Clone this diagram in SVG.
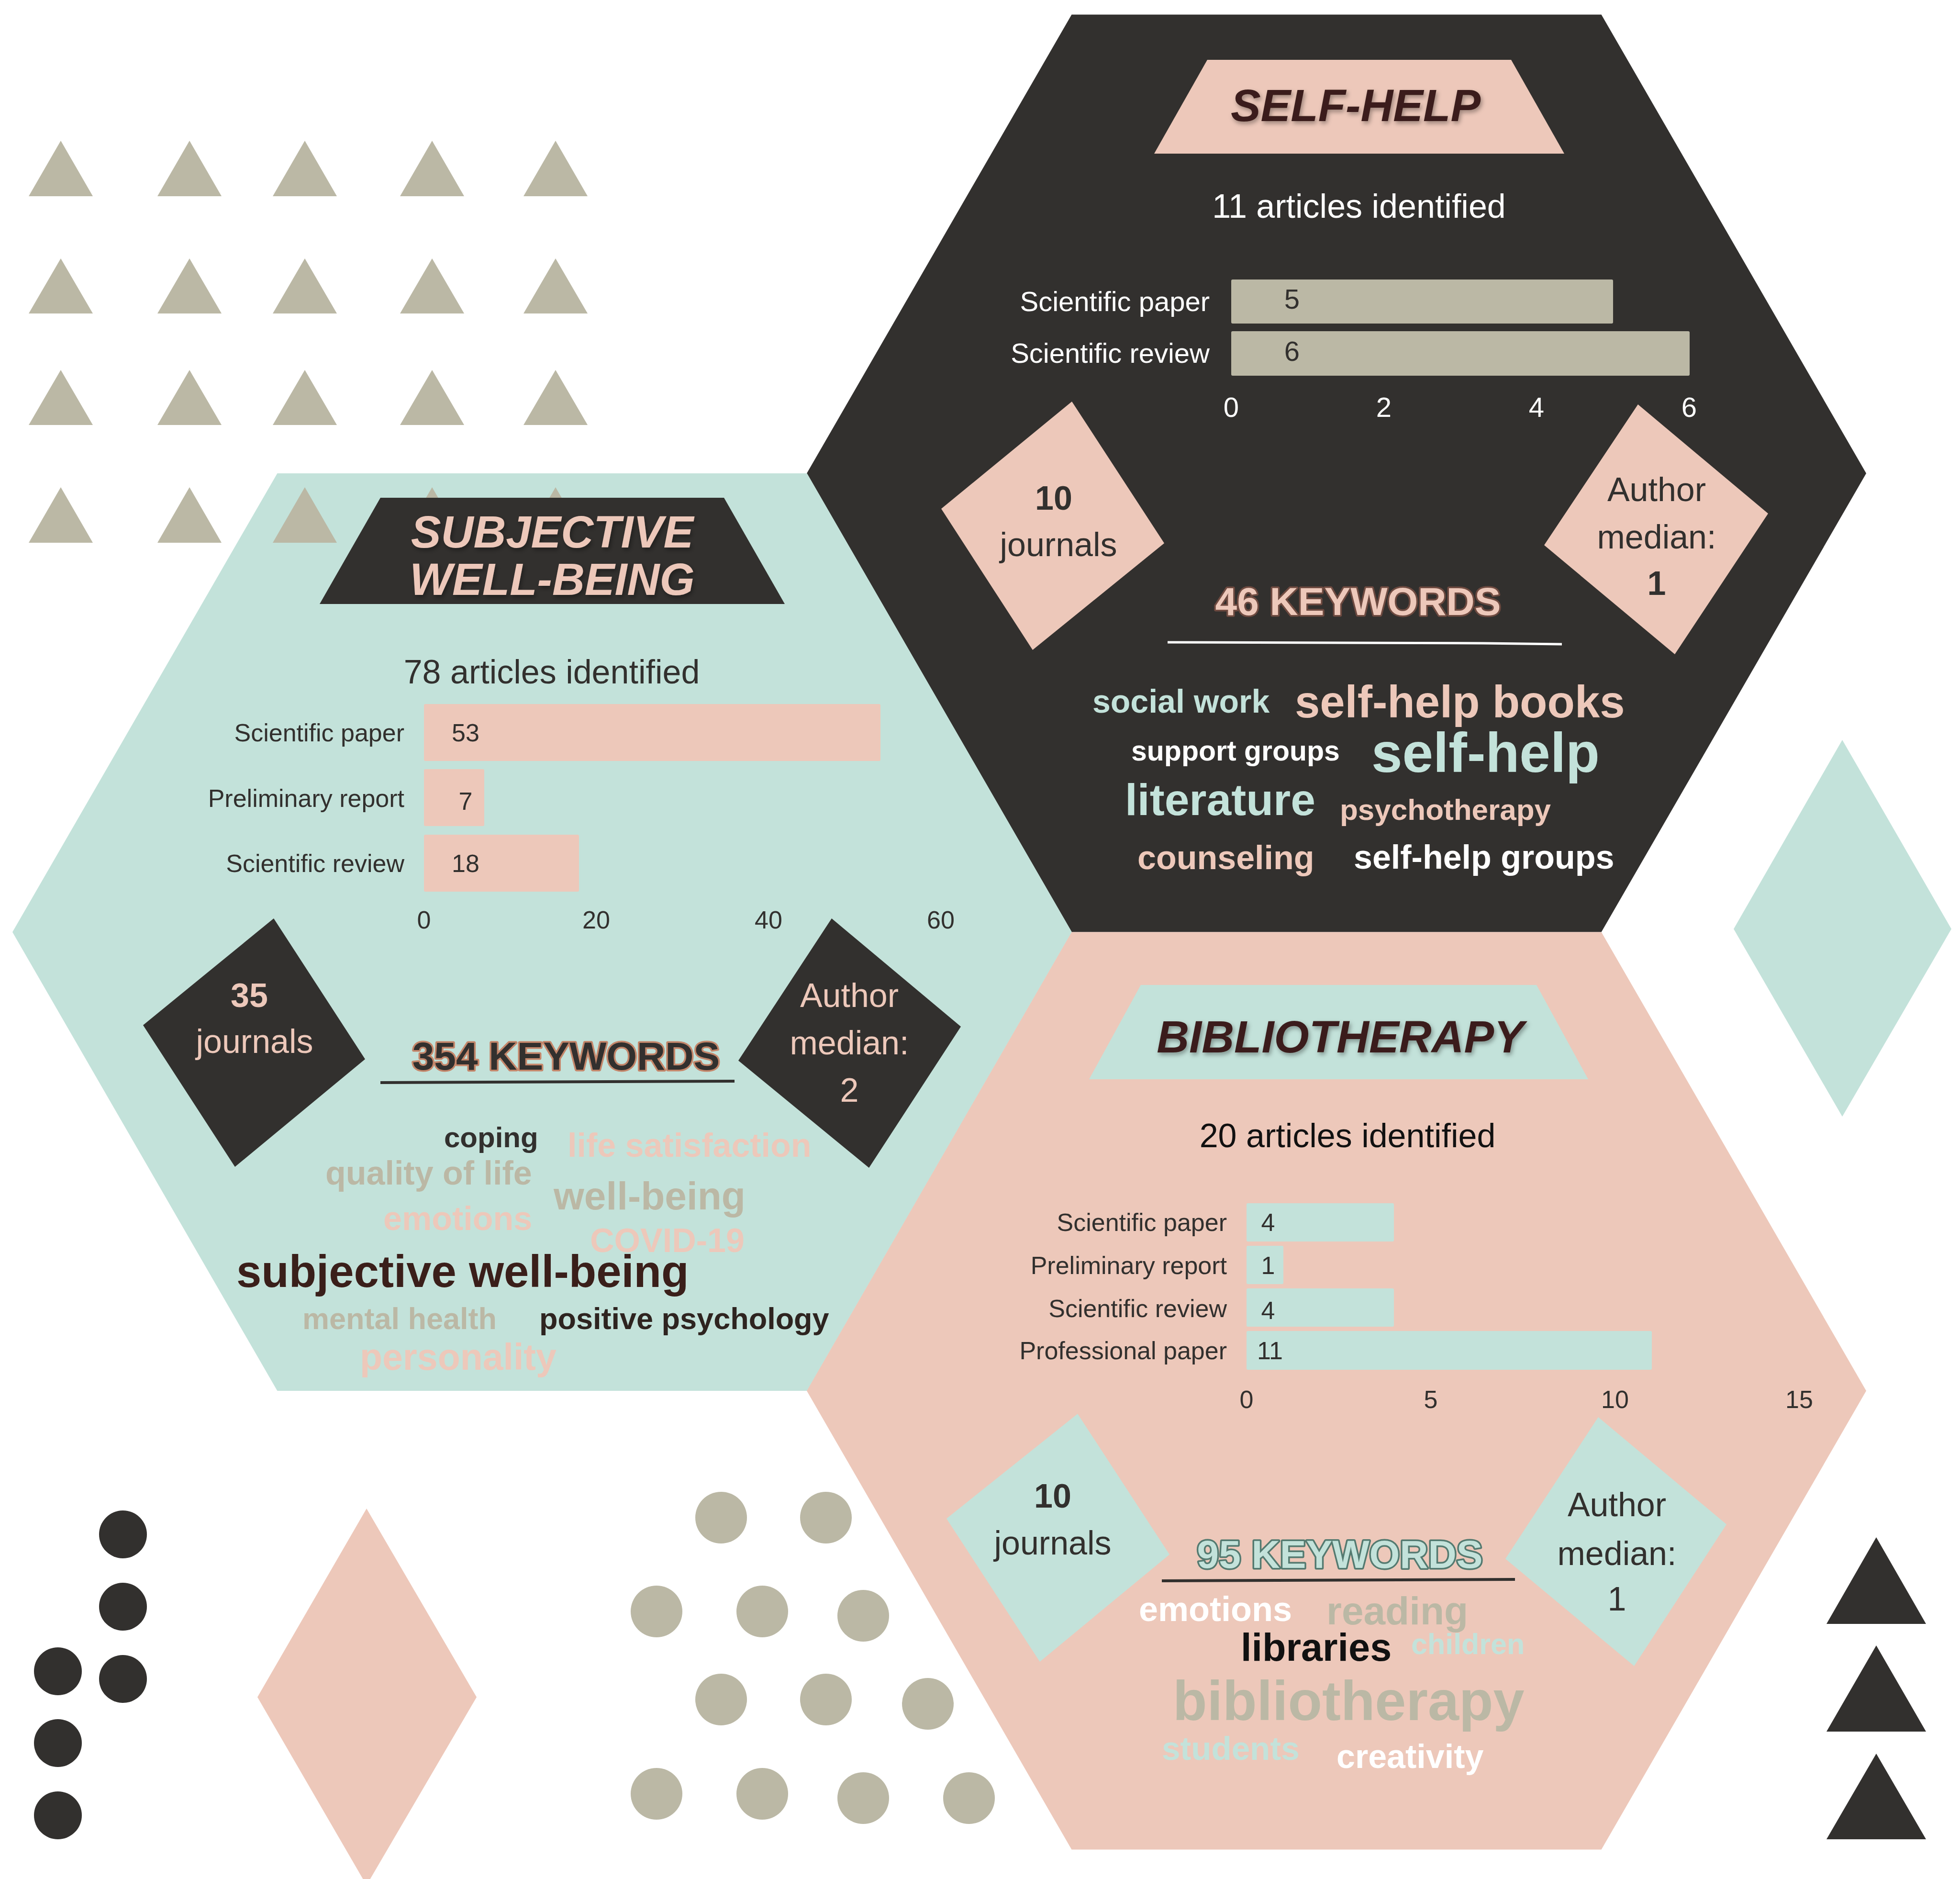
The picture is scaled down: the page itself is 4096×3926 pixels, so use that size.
<svg xmlns="http://www.w3.org/2000/svg" width="4096" height="3926" viewBox="0 0 4096 3926">
<style>
text{font-family:"Liberation Sans",Arial,sans-serif}
.dk{fill:#32302E}.tl{fill:#C3E2DA}.pk{fill:#EDC8BA}.gy{fill:#BBB8A5}.wh{fill:#FFFFFF}
.b{font-weight:bold}.m{text-anchor:middle}.e{text-anchor:end}
.ttl{font-weight:bold;font-style:italic;font-size:94px;text-anchor:middle}
.art{font-size:70px;text-anchor:middle}
.lab{font-size:52px;text-anchor:end}
.ax{font-size:52px;text-anchor:middle}
.dia{font-size:70px;text-anchor:middle}
.kw{font-size:82px;font-weight:bold;text-anchor:middle;stroke-width:7px;paint-order:stroke;stroke-linejoin:round}
.wc{font-weight:bold}
</style>
<defs>
<filter id="sh" x="-10%" y="-40%" width="120%" height="180%">
<feDropShadow dx="3" dy="5" stdDeviation="5" flood-color="#000" flood-opacity="0.35"/>
</filter>
</defs>
<rect width="4096" height="3926" fill="#FFFFFF"/>

<g id="hexagons">
<polygon id="hex-selfhelp" class="dk" points="2239.5,30.5 3346.5,30.5 3900,989 3346.5,1947.5 2239.5,1947.5 1686,989"/>
<polygon id="hex-swb" class="tl" points="579.5,989 1686.5,989 2240,1947.5 1686.5,2906 579.5,2906 26,1947.5"/>
<polygon id="hex-biblio" class="pk" points="2239.5,1947.5 3346.5,1947.5 3900,2906 3346.5,3864.5 2239.5,3864.5 1686,2906"/>
</g>

<g id="triangle-grid" class="gy">
<polygon points="127,294 194,410 60,410"/><polygon points="396,294 463,410 329,410"/><polygon points="637,294 704,410 570,410"/><polygon points="903,294 970,410 836,410"/><polygon points="1161,294 1228,410 1094,410"/>
<polygon points="127,540 194,655 60,655"/><polygon points="396,540 463,655 329,655"/><polygon points="637,540 704,655 570,655"/><polygon points="903,540 970,655 836,655"/><polygon points="1161,540 1228,655 1094,655"/>
<polygon points="127,773 194,888 60,888"/><polygon points="396,773 463,888 329,888"/><polygon points="637,773 704,888 570,888"/><polygon points="903,773 970,888 836,888"/><polygon points="1161,773 1228,888 1094,888"/>
<polygon points="127,1018 194,1134 60,1134"/><polygon points="396,1018 463,1134 329,1134"/><polygon points="637,1018 704,1134 570,1134"/><polygon points="903,1018 970,1134 836,1134"/><polygon points="1161,1018 1228,1134 1094,1134"/>
</g>

<g id="selfhelp">
<polygon class="pk" points="2523,125 3158,125 3269,321 2412,321"/>
<text class="ttl" x="2833" y="253" fill="#3A1F1A" filter="url(#sh)">SELF-HELP</text>
<text class="art wh" x="2840" y="455">11 articles identified</text>
<rect class="gy" x="2573" y="584" width="798" height="92" rx="3"/>
<rect class="gy" x="2573" y="692" width="958" height="93" rx="3"/>
<text class="lab wh" x="2528" y="650" style="font-size:58px">Scientific paper</text>
<text class="lab wh" x="2528" y="758" style="font-size:58px">Scientific review</text>
<text class="ax dk" x="2700" y="645" style="font-size:58px">5</text>
<text class="ax dk" x="2700" y="754" style="font-size:58px">6</text>
<g class="wh">
<text class="ax" x="2573" y="871" style="font-size:58px">0</text>
<text class="ax" x="2892" y="871" style="font-size:58px">2</text>
<text class="ax" x="3211" y="871" style="font-size:58px">4</text>
<text class="ax" x="3530" y="871" style="font-size:58px">6</text>
</g>
<polygon class="pk" points="2240,839 2433,1135 2158,1358 1967,1063"/>
<text class="dia dk b" x="2202" y="1065">10</text>
<text class="dia dk" x="2212" y="1162">journals</text>
<polygon class="pk" points="3423,845 3695,1073 3500,1367 3227,1139"/>
<text class="dia dk" x="3462" y="1047">Author</text>
<text class="dia dk" x="3462" y="1146">median:</text>
<text class="dia dk b" x="3462" y="1243">1</text>
<text class="kw" x="2838" y="1285" fill="#EDC8BA" stroke="#6E4A40">46 KEYWORDS</text>
<polyline points="2440,1342 3100,1344 3264,1346" fill="none" stroke="#FFFFFF" stroke-width="5"/>
<text class="wc tl" x="2283" y="1489" font-size="68">social work</text>
<text class="wc pk" x="2706" y="1499" font-size="94">self-help books</text>
<text class="wc wh" x="2364" y="1589" font-size="59">support groups</text>
<text class="wc tl" x="2866" y="1613" font-size="116">self-help</text>
<text class="wc tl" x="2351" y="1703" font-size="93">literature</text>
<text class="wc pk" x="2800" y="1713" font-size="62">psychotherapy</text>
<text class="wc pk" x="2377" y="1816" font-size="70">counseling</text>
<text class="wc wh" x="2829" y="1815" font-size="70">self-help groups</text>
</g>

<g id="swb">
<polygon class="dk" points="795,1040 1513,1040 1640,1262 668,1262"/>
<text class="ttl pk" x="1154" y="1144" font-size="93" filter="url(#sh)">SUBJECTIVE</text>
<text class="ttl pk" x="1154" y="1243" font-size="93" filter="url(#sh)">WELL-BEING</text>
<text class="art dk" x="1153" y="1428">78 articles identified</text>
<rect class="pk" x="886" y="1471" width="954" height="119" rx="3"/>
<rect class="pk" x="886" y="1607" width="126" height="119" rx="3"/>
<rect class="pk" x="886" y="1744" width="324" height="119" rx="3"/>
<text class="lab dk" x="845" y="1549">Scientific paper</text>
<text class="lab dk" x="845" y="1686">Preliminary report</text>
<text class="lab dk" x="845" y="1822">Scientific review</text>
<text class="ax dk" x="973" y="1549">53</text>
<text class="ax dk" x="973" y="1692">7</text>
<text class="ax dk" x="973" y="1822">18</text>
<text class="ax dk" x="886" y="1940">0</text>
<text class="ax dk" x="1246" y="1940">20</text>
<text class="ax dk" x="1606" y="1940">40</text>
<text class="ax dk" x="1966" y="1940">60</text>
<polygon class="dk" points="572,1919 763,2213 491,2438 299,2142"/>
<text class="dia pk b" x="521" y="2104">35</text>
<text class="dia pk" x="532" y="2200">journals</text>
<polygon class="dk" points="1738,1919 2008,2145 1816,2440 1543,2216"/>
<text class="dia pk" x="1775" y="2104">Author</text>
<text class="dia pk" x="1775" y="2203">median:</text>
<text class="dia pk" x="1775" y="2302">2</text>
<text class="kw" x="1183" y="2235" fill="#32302E" stroke="#C4866A">354 KEYWORDS</text>
<line x1="795" y1="2262" x2="1535" y2="2259" stroke="#32302E" stroke-width="6"/>
<text class="wc dk" x="928" y="2397" font-size="60">coping</text>
<text class="wc pk" x="1186" y="2417" font-size="70">life satisfaction</text>
<text class="wc gy" x="680" y="2475" font-size="70">quality of life</text>
<text class="wc pk" x="801" y="2570" font-size="70">emotions</text>
<text class="wc gy" x="1157" y="2527" font-size="82">well-being</text>
<text class="wc pk" x="1233" y="2616" font-size="70">COVID-19</text>
<text class="wc" x="494" y="2689" font-size="94" fill="#3A1F1A">subjective well-being</text>
<text class="wc gy" x="632" y="2777" font-size="63">mental health</text>
<text class="wc" x="1127" y="2777" font-size="63" fill="#2E2420">positive psychology</text>
<text class="wc pk" x="752" y="2862" font-size="77">personality</text>
</g>

<g id="bibliotherapy">
<polygon class="tl" points="2384,2058 3211,2058 3319,2255 2276,2255"/>
<text class="ttl" x="2801" y="2199" fill="#3A1F1A" filter="url(#sh)">BIBLIOTHERAPY</text>
<text class="art" x="2816" y="2397" fill="#111111">20 articles identified</text>
<rect class="tl" x="2605" y="2514" width="308" height="80" rx="3"/>
<rect class="tl" x="2605" y="2603" width="77" height="80" rx="3"/>
<rect class="tl" x="2605" y="2692" width="308" height="80" rx="3"/>
<rect class="tl" x="2605" y="2781" width="847" height="81" rx="3"/>
<text class="lab dk" x="2564" y="2572">Scientific paper</text>
<text class="lab dk" x="2564" y="2662">Preliminary report</text>
<text class="lab dk" x="2564" y="2752">Scientific review</text>
<text class="lab dk" x="2564" y="2840">Professional paper</text>
<text class="ax dk" x="2650" y="2572">4</text>
<text class="ax dk" x="2650" y="2662">1</text>
<text class="ax dk" x="2650" y="2756">4</text>
<text class="ax dk" x="2654" y="2840">11</text>
<text class="ax dk" x="2605" y="2942">0</text>
<text class="ax dk" x="2990" y="2942">5</text>
<text class="ax dk" x="3375" y="2942">10</text>
<text class="ax dk" x="3760" y="2942">15</text>
<polygon class="tl" points="2252,2954 2444,3248 2173,3472 1978,3173"/>
<text class="dia dk b" x="2200" y="3150">10</text>
<text class="dia dk" x="2200" y="3248">journals</text>
<polygon class="tl" points="3340,2961 3608,3185 3415,3481 3146,3257"/>
<text class="dia dk" x="3379" y="3168">Author</text>
<text class="dia dk" x="3379" y="3270">median:</text>
<text class="dia dk" x="3379" y="3365">1</text>
<text class="kw" x="2800" y="3276" fill="#C3E2DA" stroke="#547A70">95 KEYWORDS</text>
<line x1="2428" y1="3303" x2="3166" y2="3300" stroke="#32302E" stroke-width="6"/>
<text class="wc wh" x="2380" y="3387" font-size="72">emotions</text>
<text class="wc gy" x="2772" y="3394" font-size="82">reading</text>
<text class="wc" x="2593" y="3470" font-size="81" fill="#111111">libraries</text>
<text class="wc tl" x="2949" y="3456" font-size="61">children</text>
<text class="wc gy" x="2451" y="3594" font-size="117">bibliotherapy</text>
<text class="wc tl" x="2428" y="3677" font-size="69">students</text>
<text class="wc wh" x="2793" y="3694" font-size="70">creativity</text>
</g>

<g id="decorations">
<polygon class="tl" points="3850,1546 4078,1941 3850,2333 3623,1941"/>
<g class="dk">
<polygon points="3921,3212 4025,3393 3817,3393"/>
<polygon points="3921,3438 4025,3618 3817,3618"/>
<polygon points="3921,3664 4025,3843 3817,3843"/>
</g>
<polygon class="pk" points="766,3152 996,3546 766,3939 538,3546"/>
<g class="dk">
<circle cx="257" cy="3206" r="50"/><circle cx="257" cy="3357" r="50"/><circle cx="121" cy="3492" r="50"/>
<circle cx="257" cy="3508" r="50"/><circle cx="121" cy="3642" r="50"/><circle cx="121" cy="3793" r="50"/>
</g>
<g class="gy">
<circle cx="1507" cy="3171" r="54"/><circle cx="1726" cy="3171" r="54"/>
<circle cx="1372" cy="3367" r="54"/><circle cx="1593" cy="3367" r="54"/><circle cx="1804" cy="3376" r="54"/>
<circle cx="1507" cy="3551" r="54"/><circle cx="1726" cy="3551" r="54"/><circle cx="1939" cy="3560" r="54"/>
<circle cx="1372" cy="3748" r="54"/><circle cx="1593" cy="3748" r="54"/><circle cx="1804" cy="3757" r="54"/><circle cx="2025" cy="3757" r="54"/>
</g>
</g>
</svg>
